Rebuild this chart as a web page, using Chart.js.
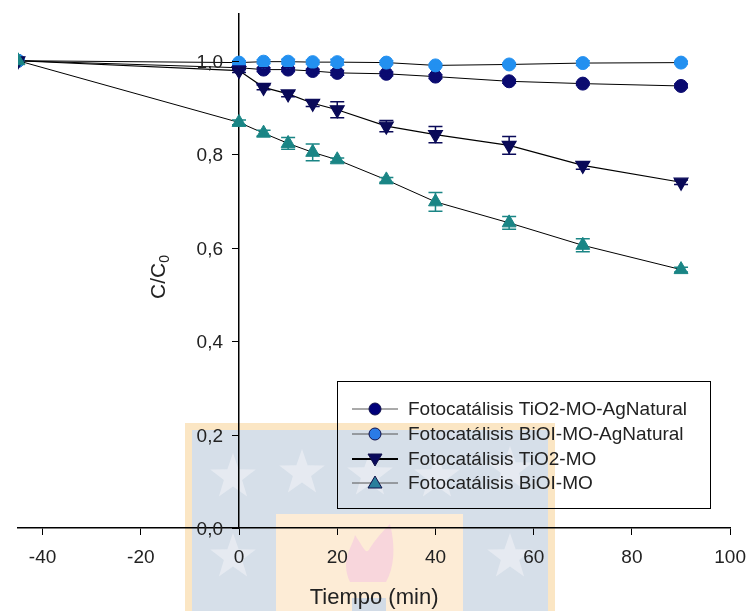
<!DOCTYPE html>
<html>
<head>
<meta charset="utf-8">
<script src="https://cdn.jsdelivr.net/npm/chart.js@4/dist/chart.umd.min.js"></script>
<style>
  body { margin: 0; background: #fff; }
  #wrap { width: 746px; height: 611px; position: relative; }
</style>
</head>
<body>
<div id="wrap"><canvas id="dataChart"></canvas></div>
<script>
// tiempo (min)
const times = [-45, 0, 5, 10, 15, 20, 30, 40, 55, 70, 90];

// C/C0 por serie
const tio2Ag = [1.0, 0.985, 0.981, 0.981, 0.978, 0.974, 0.972, 0.966, 0.956, 0.951, 0.946];
const bioiAg = [1.0, 0.996, 0.998, 0.998, 0.997, 0.997, 0.996, 0.990, 0.992, 0.995, 0.996];
const tio2 = [1.0, 0.979, 0.943, 0.929, 0.909, 0.895, 0.860, 0.842, 0.819, 0.776, 0.740];
const bioi = [1.0, 0.868, 0.845, 0.823, 0.804, 0.788, 0.745, 0.698, 0.653, 0.605, 0.553];

// barras de error (+/-)
const tio2AgErr = [0, 0.004, 0.004, 0.004, 0.004, 0.005, 0.004, 0.004, 0.004, 0.003, 0.004];
const bioiAgErr = [0, 0.004, 0.004, 0.005, 0.004, 0.006, 0.004, 0.003, 0.003, 0.005, 0.003];
const tio2Err = [0, 0.004, 0.005, 0.006, 0.007, 0.017, 0.012, 0.0175, 0.019, 0.008, 0.005];
const bioiErr = [0, 0.005, 0.006, 0.0125, 0.018, 0.004, 0.005, 0.02, 0.0135, 0.014, 0.005];

const seriesNames = [
  'Fotocatálisis TiO2-MO-AgNatural',
  'Fotocatálisis BiOI-MO-AgNatural',
  'Fotocatálisis TiO2-MO',
  'Fotocatálisis BiOI-MO'
];
const yTicks = [0, 0.2, 0.4, 0.6, 0.8, 1.0];
const xTicks = [-40, -20, 0, 20, 40, 60, 80, 100];

const FONT = "'Liberation Sans', Arial, sans-serif";
const TEXT = '#222';

function toPoints(ys) {
  return times.map((t, i) => ({ x: t, y: ys[i] }));
}

// logo de fondo (marca de agua)
function star(ctx, cx, cy, r) {
  ctx.beginPath();
  for (let i = 0; i < 10; i++) {
    const rr = i % 2 === 0 ? r : r * 0.4;
    const a = -Math.PI / 2 + i * Math.PI / 5;
    ctx.lineTo(cx + Math.cos(a) * rr, cy + Math.sin(a) * rr);
  }
  ctx.closePath();
  ctx.fill();
}

const watermark = {
  id: 'watermark',
  beforeDraw(chart) {
    const ctx = chart.ctx;
    ctx.save();
    ctx.fillStyle = '#fbe6c4';
    ctx.fillRect(185, 423, 370, 190);
    ctx.fillStyle = '#d6dfe9';
    ctx.fillRect(192, 430, 356, 190);
    ctx.fillStyle = '#fdecd6';
    ctx.fillRect(276, 514, 187, 100);
    ctx.fillStyle = 'rgba(240,242,246,0.6)';
    [[233, 477], [302, 473], [370, 475], [437, 477], [510, 470], [233, 557], [510, 557]]
      .forEach(p => star(ctx, p[0], p[1], 24));
    // llama
    ctx.fillStyle = '#f8d6dc';
    ctx.beginPath();
    ctx.moveTo(350, 582);
    ctx.bezierCurveTo(340, 560, 352, 548, 355, 535);
    ctx.bezierCurveTo(364, 548, 366, 556, 370, 548);
    ctx.bezierCurveTo(375, 540, 382, 532, 390, 524);
    ctx.bezierCurveTo(396, 548, 394, 568, 386, 582);
    ctx.closePath();
    ctx.fill();
    ctx.fillStyle = '#d2dbe6';
    ctx.fillRect(352, 598, 34, 13);
    ctx.restore();
  }
};

const errorBars = {
  id: 'errorBars',
  afterDatasetsDraw(chart) {
    const ctx = chart.ctx;
    const xs = chart.scales.x, ys = chart.scales.y;
    ctx.save();
    chart.data.datasets.forEach(ds => {
      ctx.strokeStyle = ds.pointBackgroundColor;
      ctx.lineWidth = 1.5;
      ds.data.forEach((p, i) => {
        const e = ds.errors[i];
        if (!e) return;
        const px = xs.getPixelForValue(p.x);
        const top = ys.getPixelForValue(p.y + e);
        const bot = ys.getPixelForValue(p.y - e);
        ctx.beginPath();
        ctx.moveTo(px, top); ctx.lineTo(px, bot);
        ctx.moveTo(px - 7, top); ctx.lineTo(px + 7, top);
        ctx.moveTo(px - 7, bot); ctx.lineTo(px + 7, bot);
        ctx.stroke();
      });
    });
    ctx.restore();
  }
};

// eje Y cruzando en x = 0: marcas y etiquetas a la izquierda
const yAxisLabels = {
  id: 'yAxisLabels',
  afterDraw(chart) {
    const ctx = chart.ctx;
    const ys = chart.scales.y;
    const ax = chart.scales.x.getPixelForValue(0);
    ctx.save();
    ctx.strokeStyle = '#000';
    ctx.lineWidth = 1;
    ctx.fillStyle = TEXT;
    ctx.font = '19px ' + FONT;
    ctx.textAlign = 'right';
    ctx.textBaseline = 'middle';
    ys.ticks.forEach(t => {
      const py = Math.round(ys.getPixelForValue(t.value)) + 0.5;
      ctx.beginPath();
      ctx.moveTo(ax - 7, py); ctx.lineTo(ax, py);
      ctx.stroke();
      ctx.fillText(t.value.toFixed(1).replace('.', ','), ax - 16, py + 1);
    });
    ctx.restore();
  }
};

const yTitle = {
  id: 'yTitle',
  afterDraw(chart) {
    const ctx = chart.ctx;
    ctx.save();
    ctx.translate(159, 277);
    ctx.rotate(-Math.PI / 2);
    ctx.fillStyle = TEXT;
    ctx.textBaseline = 'middle';
    ctx.font = '21px ' + FONT;
    const main = 'C/C';
    const w1 = ctx.measureText(main).width;
    ctx.font = '14px ' + FONT;
    const w2 = ctx.measureText('0').width;
    const x0 = -(w1 + w2) / 2;
    ctx.font = '21px ' + FONT;
    ctx.fillText(main, x0, 0);
    ctx.font = '14px ' + FONT;
    ctx.fillText('0', x0 + w1, 6);
    ctx.restore();
  }
};

const boxLegend = {
  id: 'boxLegend',
  afterDraw(chart) {
    const ctx = chart.ctx;
    const rows = [409, 434, 459, 483];
    const lineW = [1, 1, 2, 1];
    const lineC = ['#555', '#555', '#000', '#555'];
    const fills = ['#00007a', '#2b7be6', '#0a0a5c', '#2a7f9c'];
    ctx.save();
    ctx.strokeStyle = '#000';
    ctx.lineWidth = 1;
    ctx.strokeRect(337.5, 381.5, 373, 127);
    chart.data.datasets.forEach((ds, i) => {
      const y = rows[i];
      ctx.strokeStyle = lineC[i];
      ctx.lineWidth = lineW[i];
      ctx.beginPath();
      ctx.moveTo(352, y); ctx.lineTo(398, y);
      ctx.stroke();
      ctx.fillStyle = fills[i];
      ctx.strokeStyle = '#10104a';
      ctx.lineWidth = 1;
      ctx.beginPath();
      if (ds.pointStyle === 'circle') {
        ctx.arc(375, y, 6, 0, Math.PI * 2);
      } else if (ds.pointRotation === 180) {
        ctx.moveTo(368, y - 5); ctx.lineTo(382, y - 5); ctx.lineTo(375, y + 7);
        ctx.closePath();
      } else {
        ctx.moveTo(368, y + 5); ctx.lineTo(382, y + 5); ctx.lineTo(375, y - 7);
        ctx.closePath();
      }
      ctx.fill();
      ctx.stroke();
      ctx.fillStyle = TEXT;
      ctx.font = '19px ' + FONT;
      ctx.textBaseline = 'middle';
      ctx.fillText(ds.label, 408, y + 1);
    });
    ctx.restore();
  }
};

const ctx = document.getElementById('dataChart').getContext('2d');
const dataChart = new Chart(ctx, {
  type: 'line',
  data: {
    datasets: [
      {
        label: seriesNames[0], data: toPoints(tio2Ag), errors: tio2AgErr, order: 4,
        borderColor: '#000', borderWidth: 1,
        pointStyle: 'circle', pointRadius: 6.5,
        pointBackgroundColor: '#0b0b70', pointBorderColor: '#0b0b70'
      },
      {
        label: seriesNames[1], data: toPoints(bioiAg), errors: bioiAgErr, order: 3,
        borderColor: '#000', borderWidth: 1,
        pointStyle: 'circle', pointRadius: 6.5,
        pointBackgroundColor: '#2390f0', pointBorderColor: '#2390f0'
      },
      {
        label: seriesNames[2], data: toPoints(tio2), errors: tio2Err, order: 2,
        borderColor: '#000', borderWidth: 1.2,
        pointStyle: 'triangle', pointRotation: 180, pointRadius: 8,
        pointBackgroundColor: '#0a0a58', pointBorderColor: '#0a0a58'
      },
      {
        label: seriesNames[3], data: toPoints(bioi), errors: bioiErr, order: 1,
        borderColor: '#000', borderWidth: 1,
        pointStyle: 'triangle', pointRadius: 8,
        pointBackgroundColor: '#1a8585', pointBorderColor: '#1a8585'
      }
    ]
  },
  options: {
    responsive: true,
    maintainAspectRatio: false,
    animation: false,
    devicePixelRatio: 1,
    layout: { padding: { left: 18, right: 0, top: 14, bottom: 0 } },
    plugins: { legend: { display: false }, tooltip: { enabled: false } },
    elements: { line: { tension: 0 } },
    scales: {
      x: {
        type: 'linear', min: -45, max: 100, position: 'bottom',
        afterBuildTicks: s => { s.ticks = xTicks.map(v => ({ value: v })); },
        border: { color: '#000', width: 1.5 },
        grid: { drawOnChartArea: false, tickLength: 7, color: '#000', lineWidth: 1 },
        ticks: { padding: 0, color: TEXT, font: { family: FONT, size: 19, lineHeight: 2.4 }, callback: v => String(v) },
        title: { display: true, text: 'Tiempo (min)', color: TEXT, font: { family: FONT, size: 22 }, padding: { top: 4, bottom: 0 } }
      },
      y: {
        type: 'linear', min: 0, max: 1.1, position: { x: 0 },
        afterBuildTicks: s => { s.ticks = yTicks.map(v => ({ value: v })); },
        border: { color: '#000', width: 1.5 },
        grid: { drawOnChartArea: false, drawTicks: false },
        ticks: { display: false }
      }
    }
  },
  plugins: [watermark, errorBars, yAxisLabels, yTitle, boxLegend]
});
</script>
</body>
</html>
